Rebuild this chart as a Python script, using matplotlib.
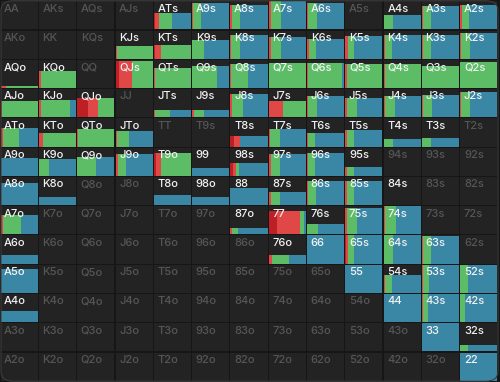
import matplotlib
matplotlib.use("Agg")
import matplotlib.pyplot as plt
from matplotlib.patches import FancyBboxPatch

RANKS = ["A", "K", "Q", "J", "T", "9", "8", "7", "6", "5", "4", "3", "2"]

# fraction of the hand played (bar height)
FREQ = [
    [0, 0, 0, 0, 0.60, 0.95, 0.88, 1.00, 0.95, 0, 0.52, 0.83, 0.86],
    [0, 0, 0, 0.45, 0.50, 0.65, 0.83, 0.76, 0.70, 0.80, 0.83, 0.83, 0.90],
    [0.07, 0.59, 0, 0.95, 0.70, 0.80, 0.85, 0.90, 0.90, 0.85, 0.85, 0.78, 0.93],
    [0.58, 0.60, 0.69, 0, 0.24, 0.24, 0.83, 0.58, 0.76, 0.69, 0.76, 0.78, 0.90],
    [0.66, 0.49, 0.63, 0.56, 0, 0, 0.39, 0.63, 0.49, 0.59, 0.25, 0.29, 0],
    [0.65, 0.61, 0.68, 0.78, 0.81, 0.27, 0.44, 0.78, 0.81, 0.31, 0, 0, 0],
    [0.79, 0.28, 0, 0, 0.34, 0.28, 0.62, 0.48, 0.86, 0.86, 0.005, 0, 0],
    [0.69, 0, 0, 0, 0, 0, 0.24, 0.83, 0.38, 0.93, 1.00, 0, 0],
    [0.30, 0, 0, 0, 0, 0, 0, 0.30, 1.00, 1.00, 1.00, 0.97, 0],
    [0.86, 0, 0, 0, 0, 0, 0, 0, 0, 1.00, 0.65, 1.00, 1.00],
    [0.41, 0, 0, 0, 0, 0, 0, 0, 0, 0, 1.00, 1.00, 1.00],
    [0, 0, 0, 0, 0, 0, 0, 0, 0, 0, 0, 1.00, 0.24],
    [0, 0, 0, 0, 0, 0, 0, 0, 0, 0, 0, 0, 1.00],
]

# action mix (fractions of width); blue = remainder
DARK_RED = [
    [0, 0, 0, 0, 0.04, 0, 0, 0, 0, 0, 0, 0, 0],
    [0, 0, 0, 0, 0.03, 0, 0, 0, 0, 0, 0, 0, 0],
    [0, 0, 0, 0.10, 0, 0, 0, 0, 0, 0, 0, 0, 0],
    [0, 0, 0.28, 0, 0, 0, 0, 0, 0, 0, 0, 0, 0],
    [0, 0, 0, 0, 0, 0, 0.09, 0, 0, 0, 0, 0, 0],
    [0, 0, 0, 0, 0.06, 0, 0.06, 0, 0, 0, 0, 0, 0],
    [0, 0, 0, 0, 0, 0, 0, 0, 0, 0, 0, 0, 0],
    [0, 0, 0, 0, 0, 0, 0, 0.22, 0, 0, 0, 0, 0],
    [0, 0, 0, 0, 0, 0, 0, 0, 0, 0.03, 0, 0, 0],
    [0, 0, 0, 0, 0, 0, 0, 0, 0, 0, 0, 0, 0],
    [0, 0, 0, 0, 0, 0, 0, 0, 0, 0, 0, 0, 0],
    [0, 0, 0, 0, 0, 0, 0, 0, 0, 0, 0, 0, 0],
    [0, 0, 0, 0, 0, 0, 0, 0, 0, 0, 0, 0, 0],
]
RED = [
    [0, 0, 0, 0, 0.09, 0.035, 0.035, 0.05, 0.035, 0, 0, 0.03, 0.04],
    [0, 0, 0, 0.05, 0.17, 0, 0.02, 0.06, 0.06, 0.06, 0.045, 0.035, 0.03],
    [0.14, 0.05, 0, 0.34, 0.03, 0, 0.02, 0.02, 0.02, 0.04, 0.03, 0.01, 0],
    [0.04, 0.06, 0.27, 0, 0.04, 0.04, 0.03, 0.39, 0.03, 0.04, 0.03, 0.03, 0.03],
    [0.06, 0.12, 0.01, 0.04, 0, 0, 0.16, 0.03, 0.035, 0.045, 0, 0, 0],
    [0, 0, 0, 0.06, 0.12, 0, 0.08, 0.06, 0.03, 0.045, 0, 0, 0],
    [0, 0, 0, 0, 0, 0, 0, 0.06, 0.03, 0.045, 0, 0, 0],
    [0.06, 0, 0, 0, 0, 0, 0.04, 0.61, 0, 0.045, 0.045, 0, 0],
    [0, 0, 0, 0, 0, 0, 0, 0.09, 0, 0.04, 0.02, 0.04, 0],
    [0, 0, 0, 0, 0, 0, 0, 0, 0, 0, 0.045, 0.04, 0],
    [0, 0, 0, 0, 0, 0, 0, 0, 0, 0, 0, 0.04, 0],
    [0, 0, 0, 0, 0, 0, 0, 0, 0, 0, 0, 0, 0],
    [0, 0, 0, 0, 0, 0, 0, 0, 0, 0, 0, 0, 0],
]
GREEN = [
    [0, 0, 0, 0, 0.37, 0.20, 0.21, 0.28, 0.23, 0, 0.24, 0.22, 0.20],
    [0, 0, 0, 0.95, 0.80, 0.33, 0.24, 0.27, 0.18, 0.16, 0.19, 0.21, 0.22],
    [0.86, 0.95, 0, 0.56, 0.97, 0.67, 0.45, 0.98, 0.93, 0.96, 0.97, 0.99, 1.00],
    [0.96, 0.79, 0.45, 0, 0.40, 0.28, 0.32, 0.61, 0.25, 0.27, 0.28, 0.24, 0.24],
    [0.43, 0.88, 0.99, 0.33, 0, 0, 0, 0.28, 0.18, 0.18, 0.24, 0.25, 0],
    [0, 0.28, 0.50, 0.22, 0.82, 0, 0.10, 0.24, 0.18, 0.18, 0, 0, 0],
    [0, 0, 0, 0, 0, 0, 0, 0.24, 0.22, 0.18, 0, 0, 0],
    [0.48, 0, 0, 0, 0, 0, 0.17, 0.13, 0.30, 0.27, 0.28, 0, 0],
    [0, 0, 0, 0, 0, 0, 0, 0.45, 0, 0.16, 0.22, 0.20, 0],
    [0, 0, 0, 0, 0, 0, 0, 0, 0, 0, 0.19, 0.16, 0.20],
    [0, 0, 0, 0, 0, 0, 0, 0, 0, 0, 0, 0.12, 0.12],
    [0, 0, 0, 0, 0, 0, 0, 0, 0, 0, 0, 0, 0.20],
    [0, 0, 0, 0, 0, 0, 0, 0, 0, 0, 0, 0, 0],
]

C_BG = "#161616"
C_CELL = "#232323"
C_DARKRED = "#bd1f24"
C_RED = "#e04747"
C_GREEN = "#5cbd66"
C_BLUE = "#3a87a5"
C_ON = "#f2f2f2"
C_OFF = "#565656"

plt.rcParams["font.family"] = ["Inter", "DejaVu Sans"]

fig = plt.figure(figsize=(5.0, 3.82), dpi=100, facecolor=C_BG)
ax = fig.add_axes([0.0, 0.002, 0.996, 0.996])
ax.set_xlim(0, 13)
ax.set_ylim(13, 0)
ax.axis("off")
ax.set_facecolor(C_BG)

gx = 0.6 / 38.3
gy = 0.6 / 29.3

for r in range(13):
    for c in range(13):
        if r == c:
            label = RANKS[r] + RANKS[c]
        elif r < c:
            label = RANKS[r] + RANKS[c] + "s"
        else:
            label = RANKS[c] + RANKS[r] + "o"
        # cell background
        ax.bar(c + gx, 1 - 2 * gy, width=1 - 2 * gx, bottom=r + gy,
               align="edge", color=C_CELL, linewidth=0, zorder=1)
        f = FREQ[r][c]
        if f > 0:
            h = f * (1 - 2 * gy)
            bottom = r + 1 - gy
            parts = [DARK_RED[r][c], RED[r][c], GREEN[r][c]]
            parts.append(max(0.0, 1 - sum(parts)))
            cols = [C_DARKRED, C_RED, C_GREEN, C_BLUE]
            x = c + gx
            inner = 1 - 2 * gx
            for p, col in zip(parts, cols):
                if p <= 0:
                    continue
                ax.bar(x, -h, width=p * inner, bottom=bottom, align="edge",
                       color=col, linewidth=0, zorder=2)
                x += p * inner
        active = f > 0
        ax.text(c + 0.11, r + 0.1, label, ha="left", va="top",
                fontsize=8, color=C_ON if active else C_OFF,
                fontweight="medium", zorder=3)

frame = FancyBboxPatch((0.002, 0.002), 0.994, 0.996,
                       boxstyle="round,pad=0,rounding_size=0.025",
                       transform=fig.transFigure, facecolor="none",
                       edgecolor="#3c3c3c", linewidth=0.8, zorder=10)
fig.patches.append(frame)

fig.savefig("out.png", dpi=100, facecolor=C_BG)
